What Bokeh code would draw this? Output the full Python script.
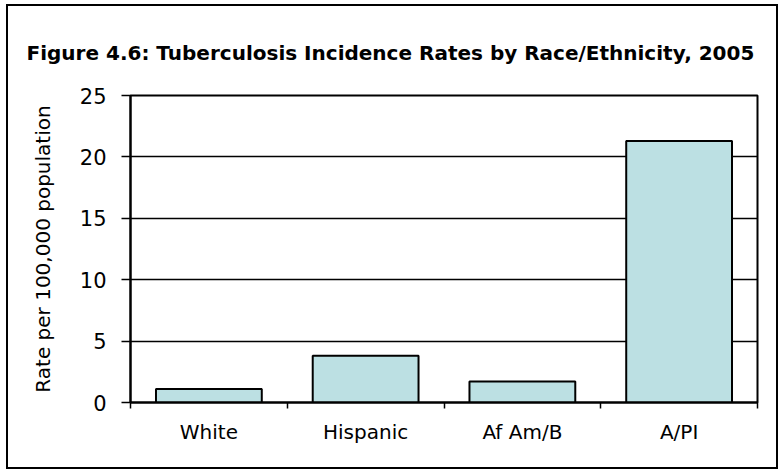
from bokeh.plotting import figure
from bokeh.models import Range1d, LinearAxis, FixedTicker, ColumnDataSource
from bokeh.embed import file_html
from bokeh.resources import INLINE

# ---- data ----
categories = ["White", "Hispanic", "Af Am/B", "A/PI"]
rates = [1.1, 3.8, 1.7, 21.3]
y_ticks = [0, 5, 10, 15, 20, 25]
title_text = "Figure 4.6: Tuberculosis Incidence Rates by Race/Ethnicity, 2005"
y_label = "Rate per 100,000 population"

FONT = "DejaVu Sans"

n = len(categories)
centers = [i + 0.5 for i in range(n)]
src = ColumnDataSource(dict(x=centers, top=rates, cat=categories))

p = figure(
    width=772, height=465,
    x_range=Range1d(0, n),
    y_range=Range1d(0, 25),
    output_backend="svg", toolbar_location=None,
    x_axis_location=None, y_axis_location="left",
    min_border_left=122, min_border_right=23, min_border_top=89, min_border_bottom=69,
    background_fill_color="white", border_fill_color="white",
)
p.styles = {"border": "2px solid black", "margin-left": "6px", "margin-top": "4px"}

# title
p.title.text = title_text
p.title.align = "left"
p.title.offset = -104
p.title.standoff = 62
p.title.text_font = FONT
p.title.text_font_size = "20px"
p.title.text_font_style = "bold"
p.title.text_color = "black"

# frame outline
p.outline_line_color = "black"
p.outline_line_width = 2
p.outline_line_alpha = 1

# grid
p.xgrid.grid_line_color = None
p.ygrid.ticker = FixedTicker(ticks=y_ticks)
p.ygrid.grid_line_color = "black"
p.ygrid.grid_line_width = 1.5

# y axis
ya = p.yaxis[0]
ya.ticker = FixedTicker(ticks=y_ticks)
ya.axis_line_color = "black"
ya.axis_line_width = 2
ya.major_tick_line_color = "black"
ya.major_tick_line_width = 1.5
ya.major_tick_out = 9
ya.major_tick_in = 0
ya.minor_tick_line_color = None
ya.major_label_text_font = FONT
ya.major_label_text_font_size = "21px"
ya.major_label_text_color = "black"
ya.major_label_standoff = 15
ya.axis_label = y_label
ya.axis_label_text_font = FONT
ya.axis_label_text_font_size = "20px"
ya.axis_label_text_font_style = "normal"
ya.axis_label_text_color = "black"
ya.axis_label_standoff = 22

# x axis: ticks at category boundaries
tick_axis = LinearAxis(
    ticker=FixedTicker(ticks=list(range(n + 1))),
    axis_line_color="black", axis_line_width=2,
    major_tick_line_color="black", major_tick_line_width=1.5,
    major_tick_out=6, major_tick_in=0,
    minor_tick_line_color=None,
    major_label_text_font_size="1px", major_label_text_color=None,
    major_label_standoff=0,
)
p.add_layout(tick_axis, "below")

# x axis: category labels at bar centres
label_axis = LinearAxis(
    ticker=FixedTicker(ticks=centers),
    major_label_overrides={c: name for c, name in zip(centers, categories)},
    axis_line_color=None, major_tick_line_color=None,
    major_tick_out=0, major_tick_in=0,
    minor_tick_line_color=None,
    major_label_text_font=FONT, major_label_text_font_size="20px",
    major_label_text_color="black", major_label_standoff=11,
)
p.add_layout(label_axis, "below")

# bars
p.vbar(x="x", top="top", bottom=0, width=0.675, source=src,
       fill_color="#BCE0E3", line_color="black", line_width=2)

open("out.html", "w").write(file_html(p, INLINE))
